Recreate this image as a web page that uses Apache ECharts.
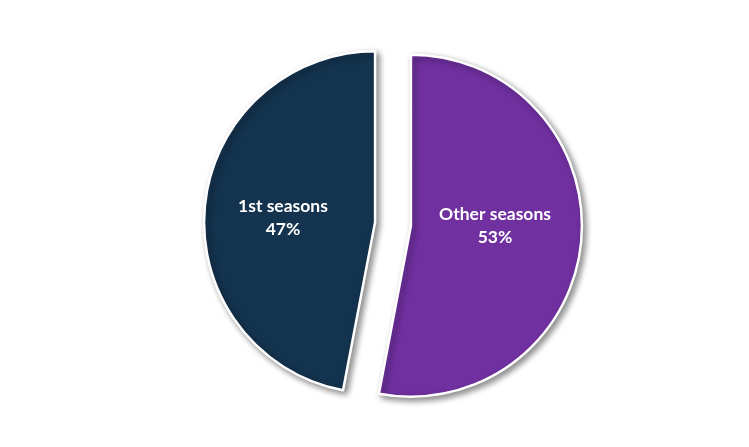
<!DOCTYPE html>
<html>
<head>
<meta charset="utf-8">
<script src="https://cdn.jsdelivr.net/npm/echarts@6/dist/echarts.min.js"></script>
<style>
  html, body { margin: 0; padding: 0; background: #fff; }
  #chart { width: 749px; height: 447px; }
</style>
</head>
<body>
<div id="chart"></div>
<script>
// slices, clockwise from 12 o'clock
var categories = ['Other seasons', '1st seasons'];
var shares = [53, 47];

var sliceColors = ['#7030A0', '#14334E'];
// small label shifts [dx, dy] inside each slice
var labelShift = [[-4, -8], [-4, 4]];

var pieData = [];
for (var i = 0; i < categories.length; i++) {
	pieData.push({
		name: categories[i],
		value: shares[i],
		selected: true,
		itemStyle: { color: sliceColors[i] }
	});
}

var chart = echarts.init(document.getElementById('chart'));
chart.setOption({
	animation: false,
	series: [{
		type: 'pie',
		center: [393, 224],
		radius: [0, 171],
		startAngle: 90,
		clockwise: true,
		selectedMode: 'multiple',
		selectedOffset: 18,
		percentPrecision: 0,
		itemStyle: {
			borderColor: '#fff',
			borderWidth: 2.5,
			shadowBlur: 6,
			shadowOffsetX: 3,
			shadowOffsetY: 3,
			shadowColor: 'rgba(0,0,0,0.45)'
		},
		label: {
			show: true,
			position: 'inside',
			formatter: '{b}\n{d}%',
			color: '#fff',
			fontFamily: 'Lato',
			fontWeight: 'bold',
			fontSize: 17.5,
			lineHeight: 23
		},
		labelLayout: function (params) {
			var s = labelShift[params.dataIndex];
			return { dx: s[0], dy: s[1] };
		},
		labelLine: { show: false },
		emphasis: { disabled: true },
		data: pieData
	}]
});
</script>
</body>
</html>
